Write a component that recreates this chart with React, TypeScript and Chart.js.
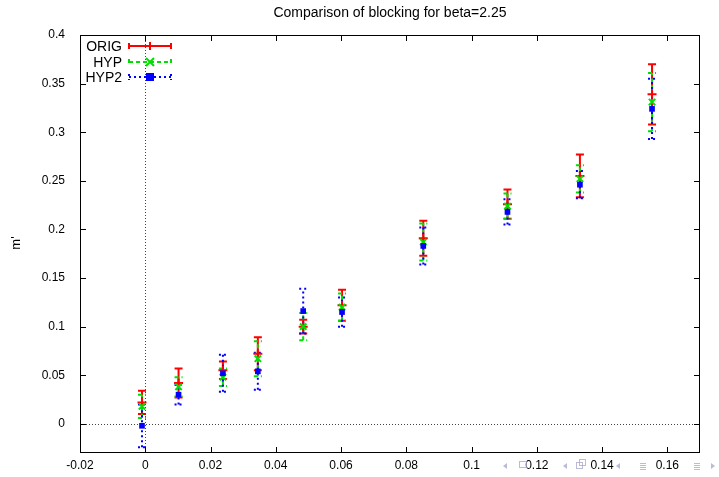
import React, { useEffect, useRef } from "react";
import { Chart, registerables } from "chart.js";

Chart.register(...registerables);

const TITLE = "Comparison of blocking for beta=2.25";
const Y_LABEL = "m'";
const xValues = [-0.001, 0.0102, 0.0238, 0.0345, 0.0484, 0.0603, 0.0852, 0.111, 0.1332, 0.1553];
const origValues = [0.022, 0.042, 0.055, 0.072, 0.1, 0.122, 0.191, 0.226, 0.255, 0.339];
const origErrors = [0.012, 0.015, 0.009, 0.017, 0.007, 0.016, 0.018, 0.015, 0.022, 0.031];
const hypValues = [0.018, 0.038, 0.048, 0.067, 0.1, 0.12, 0.187, 0.224, 0.252, 0.331];
const hypErrors = [0.012, 0.01, 0.009, 0.018, 0.014, 0.014, 0.019, 0.013, 0.014, 0.03];
const hyp2Values = [-0.002, 0.03, 0.052, 0.054, 0.116, 0.115, 0.183, 0.218, 0.246, 0.324];
const hyp2Errors = [0.022, 0.01, 0.019, 0.019, 0.023, 0.015, 0.019, 0.013, 0.014, 0.031];
const xTicks = [-0.02, 0, 0.02, 0.04, 0.06, 0.08, 0.1, 0.12, 0.14, 0.16];
const yTicks = [0, 0.05, 0.1, 0.15, 0.2, 0.25, 0.3, 0.35, 0.4];

const FONT = "'Liberation Sans', Arial, Helvetica, sans-serif";

type Series = {
  label: string;
  values: number[];
  errors: number[];
  color: string;
  dash: number[];
  style: string;
};

const series: Series[] = [
  { label: "ORIG", values: origValues, errors: origErrors, color: "#ff0000", dash: [], style: "cross" },
  { label: "HYP", values: hypValues, errors: hypErrors, color: "#00e000", dash: [4, 3], style: "crossRot" },
  { label: "HYP2", values: hyp2Values, errors: hyp2Errors, color: "#0000ff", dash: [2, 3], style: "rect" },
];

function fmt(v: number): string {
  const r = Math.round(v * 1000) / 1000;
  return String(r);
}

function drawMarker(ctx: CanvasRenderingContext2D, style: string, x: number, y: number, color: string) {
  ctx.save();
  ctx.setLineDash([]);
  ctx.strokeStyle = color;
  ctx.fillStyle = color;
  ctx.lineWidth = 2;
  const r = 4;
  ctx.beginPath();
  if (style === "cross") {
    ctx.moveTo(x - r, y);
    ctx.lineTo(x + r, y);
    ctx.moveTo(x, y - r);
    ctx.lineTo(x, y + r);
    ctx.stroke();
  } else if (style === "crossRot") {
    ctx.moveTo(x - r, y - r);
    ctx.lineTo(x + r, y + r);
    ctx.moveTo(x - r, y + r);
    ctx.lineTo(x + r, y - r);
    ctx.stroke();
  } else {
    ctx.fillRect(x - 4, y - 4, 8, 8);
  }
  ctx.restore();
}

const decorPlugin = {
  id: "gnuplotDecor",
  beforeDatasetsDraw(chart: any) {
    const { ctx, chartArea, scales } = chart;
    const xs = scales.x;
    const ys = scales.y;
    ctx.save();
    // zero axes (dotted)
    ctx.strokeStyle = "#444";
    ctx.lineWidth = 1;
    ctx.setLineDash([1, 2]);
    const x0 = Math.round(xs.getPixelForValue(0)) + 0.5;
    const y0 = Math.round(ys.getPixelForValue(0)) + 0.5;
    ctx.beginPath();
    ctx.moveTo(x0, chartArea.top);
    ctx.lineTo(x0, chartArea.bottom);
    ctx.moveTo(chartArea.left, y0);
    ctx.lineTo(chartArea.right, y0);
    ctx.stroke();

    // error bars
    series.forEach((s) => {
      ctx.strokeStyle = s.color;
      ctx.lineWidth = 2;
      ctx.setLineDash(s.dash);
      s.values.forEach((v, i) => {
        const px = xs.getPixelForValue(xValues[i]);
        const lo = ys.getPixelForValue(v - s.errors[i]);
        const hi = ys.getPixelForValue(v + s.errors[i]);
        ctx.beginPath();
        ctx.moveTo(px, lo);
        ctx.lineTo(px, hi);
        ctx.moveTo(px - 4, lo);
        ctx.lineTo(px + 4, lo);
        ctx.moveTo(px - 4, hi);
        ctx.lineTo(px + 4, hi);
        ctx.stroke();
      });
    });
    ctx.restore();
  },
  afterDraw(chart: any) {
    const { ctx, chartArea, scales } = chart;
    const xs = scales.x;
    const ys = scales.y;
    const { left, right, top, bottom } = chartArea;
    ctx.save();
    ctx.setLineDash([]);
    // border
    ctx.strokeStyle = "#000";
    ctx.lineWidth = 1;
    ctx.strokeRect(left + 0.5, top + 0.5, right - left - 1, bottom - top - 1);
    // inward ticks
    ctx.beginPath();
    xTicks.forEach((t) => {
      const p = Math.round(xs.getPixelForValue(t)) + 0.5;
      ctx.moveTo(p, bottom);
      ctx.lineTo(p, bottom - 6);
      ctx.moveTo(p, top);
      ctx.lineTo(p, top + 6);
    });
    yTicks.forEach((t) => {
      const p = Math.round(ys.getPixelForValue(t)) + 0.5;
      ctx.moveTo(left, p);
      ctx.lineTo(left + 6, p);
      ctx.moveTo(right, p);
      ctx.lineTo(right - 6, p);
    });
    ctx.stroke();

    // title
    ctx.fillStyle = "#000";
    ctx.font = `14px ${FONT}`;
    ctx.textAlign = "center";
    ctx.textBaseline = "middle";
    ctx.fillText(TITLE, (left + right) / 2, 13);

    // y label
    ctx.save();
    ctx.translate(16, 243);
    ctx.rotate(-Math.PI / 2);
    ctx.font = `13px ${FONT}`;
    ctx.fillText(Y_LABEL, 0, 0);
    ctx.restore();

    // legend
    const rows = [46, 62, 77];
    series.forEach((s, i) => {
      const y = rows[i];
      ctx.fillStyle = "#000";
      ctx.font = `14px ${FONT}`;
      ctx.textAlign = "right";
      ctx.textBaseline = "middle";
      ctx.fillText(s.label, 122, y + 1);
      ctx.strokeStyle = s.color;
      ctx.lineWidth = 2;
      ctx.setLineDash(s.dash);
      ctx.beginPath();
      ctx.moveTo(129, y);
      ctx.lineTo(171, y);
      ctx.moveTo(129, y - 3);
      ctx.lineTo(129, y + 3);
      ctx.moveTo(171, y - 3);
      ctx.lineTo(171, y + 3);
      ctx.stroke();
      drawMarker(ctx, s.style, 150, y, s.color);
    });

    // faint navigation symbols
    ctx.setLineDash([]);
    ctx.fillStyle = "rgba(170,170,205,0.8)";
    ctx.strokeStyle = "rgba(170,170,205,0.8)";
    ctx.lineWidth = 1;
    const ny = 466;
    const leftTri = (x: number) => {
      ctx.beginPath();
      ctx.moveTo(x + 2, ny - 3);
      ctx.lineTo(x - 2, ny);
      ctx.lineTo(x + 2, ny + 3);
      ctx.closePath();
      ctx.fill();
    };
    const rightTri = (x: number) => {
      ctx.beginPath();
      ctx.moveTo(x - 2, ny - 3);
      ctx.lineTo(x + 2, ny);
      ctx.lineTo(x - 2, ny + 3);
      ctx.closePath();
      ctx.fill();
    };
    const lines = (x: number) => {
      ctx.beginPath();
      for (let k = -3; k <= 3; k += 2) {
        ctx.moveTo(x - 3, ny + k + 0.5);
        ctx.lineTo(x + 3, ny + k + 0.5);
      }
      ctx.stroke();
    };
    leftTri(505);
    ctx.strokeRect(519.5, 461.5, 7, 6);
    leftTri(565);
    ctx.strokeRect(576.5, 462.5, 6, 6);
    ctx.strokeRect(579.5, 459.5, 6, 6);
    leftTri(618);
    lines(643);
    lines(697);
    rightTri(713);
    ctx.restore();
  },
};

export default function App() {
  const canvasRef = useRef<HTMLCanvasElement | null>(null);

  useEffect(() => {
    if (!canvasRef.current) return;
    const datasets = series.map((s, i) => ({
      label: s.label,
      data: xValues.map((x, k) => ({ x, y: s.values[k] })),
      showLine: false,
      pointStyle: s.style,
      pointRadius: s.style === "rect" ? 4 : 4.5,
      pointHoverRadius: 4,
      borderColor: s.color,
      backgroundColor: s.color,
      borderWidth: s.style === "rect" ? 0 : 2,
      order: 3 - i,
    }));
    const chart = new Chart(canvasRef.current, {
      type: "scatter",
      data: { datasets },
      plugins: [decorPlugin],
      options: {
        animation: false,
        responsive: true,
        maintainAspectRatio: false,
        layout: { padding: { left: 0, right: 19, top: 35, bottom: 0 } },
        plugins: {
          legend: { display: false },
          tooltip: { enabled: false },
          title: { display: false },
        },
        scales: {
          x: {
            type: "linear",
            min: -0.02,
            max: 0.17,
            grid: { display: false, drawTicks: false },
            border: { display: false },
            afterBuildTicks: (scale: any) => {
              scale.ticks = xTicks.map((v) => ({ value: v }));
            },
            afterFit: (scale: any) => {
              scale.height = 24;
            },
            ticks: {
              autoSkip: false,
              maxRotation: 0,
              padding: 5,
              color: "#000",
              font: { family: FONT, size: 12 },
              callback: (v: any) => fmt(Number(v)),
            },
          },
          y: {
            type: "linear",
            min: -0.03,
            max: 0.4,
            grid: { display: false, drawTicks: false },
            border: { display: false },
            afterBuildTicks: (scale: any) => {
              scale.ticks = yTicks.map((v) => ({ value: v }));
            },
            afterFit: (scale: any) => {
              scale.width = 80;
            },
            ticks: {
              autoSkip: false,
              padding: 15,
              color: "#000",
              font: { family: FONT, size: 12 },
              callback: (v: any) => fmt(Number(v)),
            },
          },
        },
      },
    });
    return () => chart.destroy();
  }, []);

  return (
    <div style={{ position: "absolute", left: 0, top: 0, width: 719, height: 477, background: "#fff" }}>
      <canvas ref={canvasRef} />
    </div>
  );
}
